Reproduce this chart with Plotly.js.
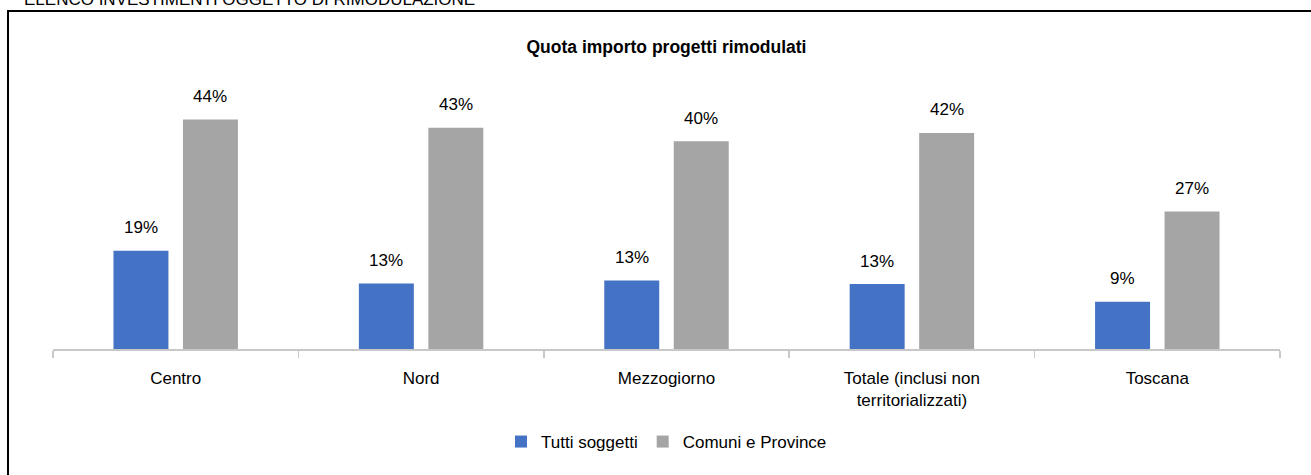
<!DOCTYPE html>
<html>
<head>
<meta charset="utf-8">
<script src="https://cdn.plot.ly/plotly-3.0.1.min.js"></script>
<style>html,body{margin:0;padding:0;background:#fff;}#chart{width:1311px;height:475px;}</style>
</head>
<body>
<div id="chart"></div>
<script>
// ---- data ----
const categories = ["Centro", "Nord", "Mezzogiorno", "Totale (inclusi non territorializzati)", "Toscana"];
const tickLabels = ["Centro", "Nord", "Mezzogiorno", "Totale (inclusi non<br>territorializzati)", "Toscana"];
const seriesNames = ["Tutti soggetti", "Comuni e Province"];
const tuttiSoggetti = [0.189, 0.126, 0.132, 0.125, 0.091];
const comuniProvince = [0.442, 0.426, 0.400, 0.416, 0.265];
const tuttiLabels = ["19%", "13%", "13%", "13%", "9%"];
const comuniLabels = ["44%", "43%", "40%", "42%", "27%"];
const supTitle = "ELENCO INVESTIMENTI OGGETTO DI RIMODULAZIONE";
const chartTitle = "Quota importo progetti rimodulati";

// ---- style ----
const FONT = "Liberation Sans, Arial, sans-serif";
const FS = 17;
const BLUE = "#4472C4", GRAY = "#A5A5A5", AXIS = "#C8C8C8";
const W = 1311, H = 475;
const M = {l: 53, r: 31, t: 80, b: 126};
const plotH = H - M.t - M.b, plotW = W - M.l - M.r;
const yMax = 0.518;
const px2py = p => (H - M.b - p) / plotH;   // pixel row -> paper y
const px2px = p => (p - M.l) / plotW;       // pixel col -> paper x

const traces = [
  {type: "bar", name: seriesNames[0], x: categories, y: tuttiSoggetti,
   marker: {color: BLUE}, hoverinfo: "skip"},
  {type: "bar", name: seriesNames[1], x: categories, y: comuniProvince,
   marker: {color: GRAY}, hoverinfo: "skip"}
];

const bargap = 0.4336, bargroupgap = 0.209;
const catPx = plotW / categories.length;
const slotPx = catPx * (1 - bargap) / 2;

const annotations = [];
[[tuttiSoggetti, tuttiLabels, -1], [comuniProvince, comuniLabels, 1]].forEach(([vals, labs, side]) => {
  vals.forEach((v, i) => {
    annotations.push({x: categories[i], y: v, xref: "x", yref: "y", text: labs[i],
      showarrow: false, xanchor: "center", yanchor: "middle",
      xshift: side * slotPx / 2, yshift: 23,
      font: {family: FONT, size: FS, color: "#000"}});
  });
});
annotations.push({text: supTitle, xref: "paper", yref: "paper", x: px2px(22), y: px2py(0),
  xanchor: "left", yanchor: "middle", showarrow: false,
  font: {family: FONT, size: FS, color: "#000"}});

const boundaries = categories.map((_, i) => i - 0.5).concat([categories.length - 0.5]);

const layout = {
  width: W, height: H,
  margin: M,
  paper_bgcolor: "#fff", plot_bgcolor: "#fff",
  font: {family: FONT, size: FS, color: "#000"},
  title: {text: "<b>" + chartTitle + "</b>", x: 0.5, xref: "paper", y: 1 - 47 / H, yanchor: "middle",
          font: {family: FONT, size: 17.5, color: "#000"}},
  barmode: "group", bargap: bargap, bargroupgap: bargroupgap,
  showlegend: true,
  legend: {orientation: "h", x: 0.5, xanchor: "center", y: px2py(442), yanchor: "middle",
           font: {family: FONT, size: FS, color: "#000"}, traceorder: "normal"},
  xaxis: {type: "category", range: [-0.5, categories.length - 0.5], tickvals: categories, ticktext: tickLabels,
          showline: true, linecolor: AXIS, linewidth: 1.5, ticks: "outside", tickson: "boundaries",
          ticklen: 7, tickcolor: AXIS, tickwidth: 1.5, showgrid: false, zeroline: false,
          ticklabelstandoff: 13,
          tickfont: {family: FONT, size: FS, color: "#000"}, fixedrange: true},
  xaxis2: {type: "linear", overlaying: "x", anchor: "y", range: [-0.5, categories.length - 0.5],
           tickmode: "array", tickvals: boundaries, ticks: "inside", ticklen: 6, tickcolor: AXIS, tickwidth: 1.5,
           showticklabels: false, showline: false, showgrid: false, zeroline: false, fixedrange: true},
  yaxis: {range: [0, yMax], visible: false, showgrid: false, zeroline: false, fixedrange: true},
  annotations: annotations,
  shapes: [{type: "rect", xref: "paper", yref: "paper",
            x0: px2px(8), x1: px2px(1330), y0: px2py(500), y1: px2py(11),
            line: {color: "#000", width: 2}, fillcolor: "rgba(0,0,0,0)", layer: "above"}]
};

Plotly.newPlot("chart", traces, layout, {staticPlot: true, displayModeBar: false});
</script>
</body>
</html>
